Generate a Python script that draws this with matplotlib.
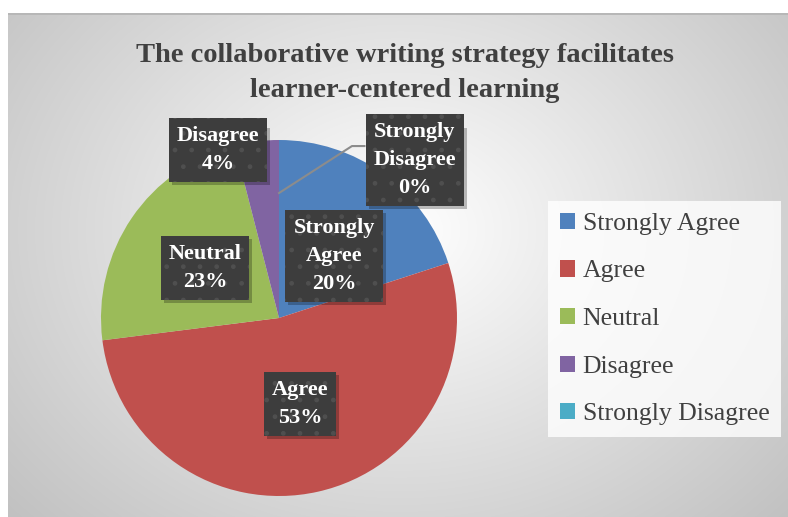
import numpy as np
import matplotlib
matplotlib.use("Agg")
import matplotlib.pyplot as plt
from matplotlib.patches import Rectangle

categories = ["Strongly Agree", "Agree", "Neutral", "Disagree", "Strongly Disagree"]
values = [20, 53, 23, 4, 0]
colors = ["#4F81BD", "#C0504D", "#9BBB59", "#8064A2", "#4BACC6"]
title = "The collaborative writing strategy facilitates\nlearner-centered learning"

FONT = "Liberation Serif"
W, H = 788, 517
fig = plt.figure(figsize=(W / 100, H / 100), dpi=100)

# background (radial gradient chart area)
bg = fig.add_axes([0, 0, 1, 1])
bg.set_xlim(0, W); bg.set_ylim(H, 0); bg.axis("off")
yy, xx = np.mgrid[0:H, 0:W]
cx, cy = 400, 230
d = np.sqrt(((xx - cx) / 520.0) ** 2 + ((yy - cy) / 420.0) ** 2)
g = np.clip(1.0 - 0.24 * d, 0.74, 1.0)
img = np.dstack([g, g, g])
img[:13, :, :] = 1.0
img[:, :8, :] = 1.0
img[13:15, 8:, :] = 0.72
bg.imshow(img, extent=(0, W, H, 0), interpolation="bilinear", aspect="auto")

# pie axes
R = 178.0
pcx, pcy = 279.0, 318.0
half = 190.0
ax = fig.add_axes([(pcx - half) / W, (H - pcy - half) / H, 2 * half / W, 2 * half / H])
wedges, _ = ax.pie(values, colors=colors, startangle=90, counterclock=False,
                   radius=1.0, wedgeprops=dict(linewidth=0))
lim = half / R
ax.set_xlim(-lim, lim); ax.set_ylim(-lim, lim)
ax.set_aspect("equal"); ax.axis("off")

# data labels (manually placed as in the reference)
label_pos = [(0.309, 0.348), (0.118, -0.483), (-0.416, 0.281), (-0.343, 0.944), (0.764, 0.888)]
label_txt = ["Strongly\nAgree\n20%", "Agree\n53%", "Neutral\n23%", "Disagree\n4%", "Strongly\nDisagree\n0%"]

# leader line for Strongly Disagree
ax.plot([0.0, 0.41, 0.48], [0.702, 0.966, 0.966], color="#8c8c8c", lw=1.5, zorder=3)

texts = []
for (x, y), t in zip(label_pos, label_txt):
    tx = ax.text(x, y, t, ha="center", va="center", fontsize=16, fontweight="bold",
                 family=FONT, color="white", linespacing=1.55,
                 bbox=dict(boxstyle="square,pad=0.36", fc="#3d3d3d", ec="#4f4f4f", lw=0,
                           hatch="."), zorder=5)
    texts.append(tx)

# title
fig.text(405 / W, 1 - 73 / H, title, ha="center", va="center", fontsize=20.5,
         fontweight="bold", family=FONT, color="#404040", linespacing=1.54)

# legend
handles = [plt.Rectangle((0, 0), 1, 1, fc=c, ec="none") for c in colors]
leg = fig.legend(handles, categories, loc="upper left",
                 bbox_to_anchor=(548 / W, 1 - 201 / H),
                 prop=dict(family=FONT, size=18.5), labelcolor="#404040",
                 frameon=True, fancybox=False, handlelength=0.6, handleheight=0.6,
                 handletextpad=0.3, labelspacing=0.99, borderpad=0.45,
                 borderaxespad=0)
leg.get_frame().set_facecolor((1, 1, 1, 0.3))
leg.get_frame().set_edgecolor("none")

# drop shadows behind label boxes
fig.canvas.draw()
for tx in texts:
    bb = tx.get_bbox_patch().get_window_extent()
    sh = Rectangle((bb.x0 + 3, bb.y0 - 3), bb.width, bb.height, transform=None,
                   fc=(0, 0, 0, 0.25), ec="none", zorder=4)
    ax.add_artist(sh)

fig.savefig("out.png", dpi=100)
